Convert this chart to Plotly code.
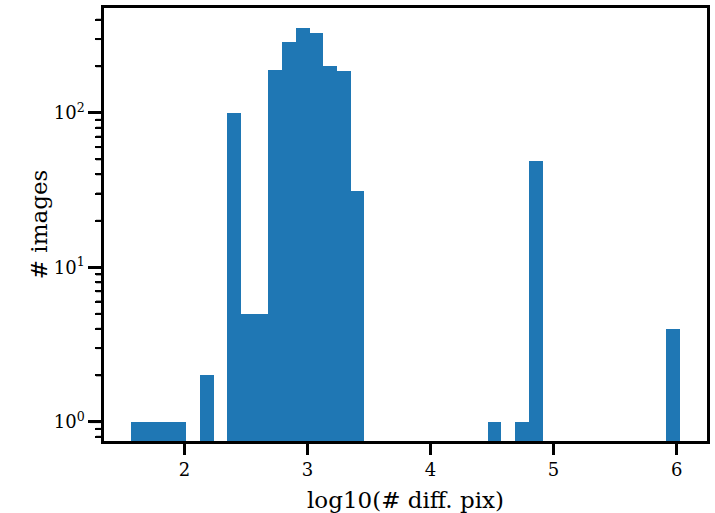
import numpy as np
import plotly.graph_objects as go

# histogram data (log10 of # differing pixels), 40 equal bins
bin_lo = 1.569
bin_hi = 6.024
counts = [1, 1, 1, 1, 0, 2, 0, 100, 5, 5,
          188, 289, 356, 326, 202, 186, 31, 0, 0, 0,
          0, 0, 0, 0, 0, 0, 1, 0, 1, 49,
          0, 0, 0, 0, 0, 0, 0, 0, 0, 4]
x_ticks = [2, 3, 4, 5, 6]
y_ticks = [1, 10, 100]
y_ticktext = ["10<sup>0</sup>", "10<sup>1</sup>", "10<sup>2</sup>"]
y_minor = [0.8, 0.9, 2, 3, 4, 5, 6, 7, 8, 9, 20, 30, 40, 50, 60, 70, 80, 90, 200, 300, 400]

n = len(counts)
edges = np.linspace(bin_lo, bin_hi, n + 1)
centers = (edges[:-1] + edges[1:]) / 2
width = edges[1] - edges[0]
yvals = [c if c > 0 else None for c in counts]

FONT = "DejaVu Serif"
Y_RANGE = [-0.124, 2.678]
PLOT_W = 715 - 104 - 8
PLOT_H = 513 - 8 - 72

fig = go.Figure()
fig.add_trace(go.Bar(
    x=centers, y=yvals, width=width,
    marker=dict(color="#1f77b4", line=dict(width=0)),
))
# invisible companion trace so the minor-tick axis gets drawn
fig.add_trace(go.Scatter(
    x=centers, y=yvals, yaxis="y2", mode="markers",
    marker=dict(opacity=0), hoverinfo="skip", showlegend=False,
))

fig.update_layout(
    template="none",
    width=715, height=513,
    margin=dict(l=104, r=8, t=8, b=72, autoexpand=False),
    bargap=0,
    font=dict(family=FONT, size=18, color="black"),
    xaxis=dict(
        range=[1.346, 6.247],
        tickvals=x_ticks,
        ticks="outside", ticklen=11, tickwidth=3, tickcolor="black",
        showline=True, linewidth=2.5, linecolor="black", mirror=True, showgrid=False,
        title=dict(text="log10(# diff. pix)", font=dict(size=23)),
    ),
    yaxis=dict(
        type="log",
        range=Y_RANGE,
        tickvals=y_ticks, ticktext=y_ticktext,
        ticks="outside", ticklen=13, tickwidth=3, tickcolor="black",
        showline=True, linewidth=2.5, linecolor="black", mirror=True, showgrid=False,
        title=dict(text="# images", font=dict(size=23)),
    ),
    yaxis2=dict(
        type="log",
        range=Y_RANGE,
        overlaying="y", side="left",
        tickvals=y_minor, showticklabels=False,
        ticks="outside", ticklen=8, tickwidth=2, tickcolor="black",
        showline=False, showgrid=False,
    ),
)

# tick marks drawn at the tick values through the axes' own scales
for v in x_ticks:
    fig.add_shape(type="line", xref="x", yref="paper", x0=v, x1=v,
                  y0=0, y1=-11 / PLOT_H, line=dict(color="black", width=2.5))
for v in y_ticks:
    fig.add_shape(type="line", xref="paper", yref="y", y0=v, y1=v,
                  x0=0, x1=-14 / PLOT_W, line=dict(color="black", width=2.5))
for v in y_minor:
    fig.add_shape(type="line", xref="paper", yref="y", y0=v, y1=v,
                  x0=0, x1=-8 / PLOT_W, line=dict(color="black", width=2))

fig.write_html(
    "out.html",
    config={"displayModeBar": False},
    post_script="document.body.style.margin='0';document.body.style.overflow='hidden';",
)
